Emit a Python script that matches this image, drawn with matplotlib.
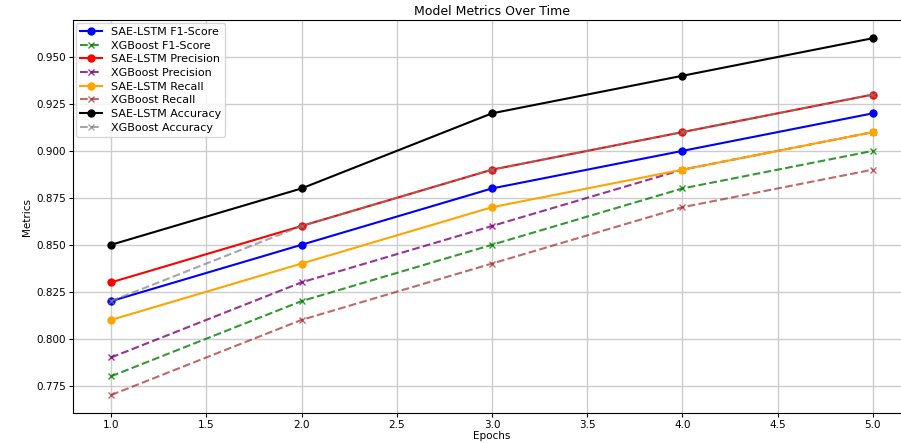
import matplotlib
matplotlib.use("Agg")
import matplotlib.pyplot as plt

epochs = [1, 2, 3, 4, 5]

sae_f1 = [0.82, 0.85, 0.88, 0.90, 0.92]
xgb_f1 = [0.78, 0.82, 0.85, 0.88, 0.90]
sae_precision = [0.83, 0.86, 0.89, 0.91, 0.93]
xgb_precision = [0.79, 0.83, 0.86, 0.89, 0.91]
sae_recall = [0.81, 0.84, 0.87, 0.89, 0.91]
xgb_recall = [0.77, 0.81, 0.84, 0.87, 0.89]
sae_accuracy = [0.85, 0.88, 0.92, 0.94, 0.96]
xgb_accuracy = [0.82, 0.86, 0.89, 0.91, 0.93]

fig = plt.figure(figsize=(9.01, 4.43), dpi=100)
ax = fig.add_axes([0.081, 0.068, 0.93, 0.886])

ax.plot(epochs, sae_f1, marker='o', linestyle='-', color='blue', label='SAE-LSTM F1-Score', ms=5)
ax.plot(epochs, xgb_f1, marker='x', linestyle='--', color='green', label='XGBoost F1-Score', ms=5, alpha=0.8)
ax.plot(epochs, sae_precision, marker='o', linestyle='-', color='red', label='SAE-LSTM Precision', ms=5)
ax.plot(epochs, xgb_precision, marker='x', linestyle='--', color='purple', label='XGBoost Precision', ms=5, alpha=0.8)
ax.plot(epochs, sae_recall, marker='o', linestyle='-', color='orange', label='SAE-LSTM Recall', ms=5)
ax.plot(epochs, xgb_recall, marker='x', linestyle='--', color='brown', label='XGBoost Recall', ms=5, alpha=0.7)
ax.plot(epochs, sae_accuracy, marker='o', linestyle='-', color='black', label='SAE-LSTM Accuracy', ms=5)
ax.plot(epochs, xgb_accuracy, marker='x', linestyle='--', color='gray', label='XGBoost Accuracy', ms=5, alpha=0.7)

ax.set_title('Model Metrics Over Time', fontsize=9, pad=4)
ax.set_xlabel('Epochs', fontsize=7.5, labelpad=1)
ax.set_ylabel('Metrics', fontsize=7.5, labelpad=3)
ax.tick_params(labelsize=7.5, length=3, pad=2)
ax.grid(True, color='#cccccc', linewidth=1)
ax.legend(loc='upper left', fontsize=8, handlelength=2, labelspacing=0.33,
          borderpad=0.35, borderaxespad=0.25)

fig.savefig('out.png', dpi=100)
